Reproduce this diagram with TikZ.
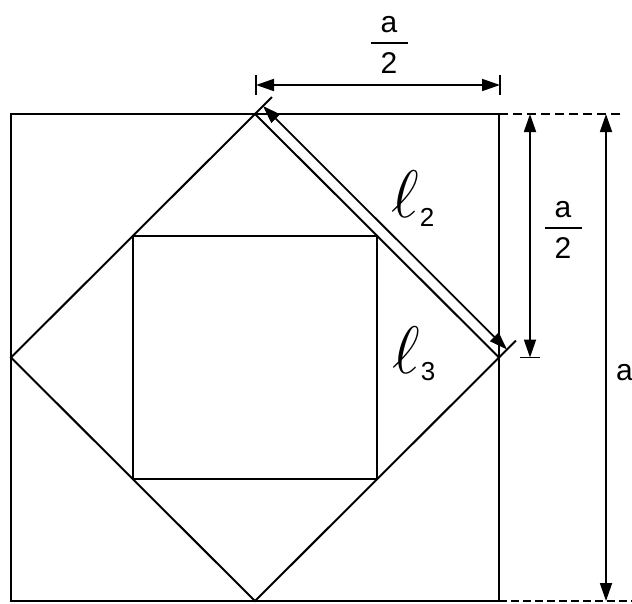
\documentclass[tikz,border=0pt]{standalone}
\usepackage{graphicx}
\usepackage{fontspec}
\setmainfont{Liberation Sans}
\usetikzlibrary{arrows.meta}
\newcommand\halfa{\vbox{\hbox to 37pt{\hss a\hss}\kern9pt\hrule height 2.2pt\kern8pt\hbox to 37pt{\hss 2\hss}}}
\newcommand\bigell{\scalebox{2.7}{$\ell$}}
\begin{document}
\begin{tikzpicture}[x=1pt,y=-1pt,
  edge/.style={line width=2pt},
  dimline/.style={line width=1.8pt},
  twotips/.style={{Triangle[length=18pt,width=12pt]}-{Triangle[length=18pt,width=12pt]}},
  dashline/.style={line width=2pt,dash pattern=on 9pt off 5pt},
  bigfont/.style={font=\fontsize{30}{35}\selectfont,inner sep=0pt},
  ellfont/.style={font=\fontsize{26}{30}\selectfont,inner sep=0pt}]
\useasboundingbox (0,0) rectangle (632,603);
% outer square
\coordinate (TL) at (11,114);
\coordinate (TR) at (499,114);
\coordinate (BR) at (499,601);
\coordinate (BL) at (11,601);
% diamond vertices
\coordinate (T) at (255,114);
\coordinate (R) at (499,357.5);
\coordinate (B) at (255,601);
\coordinate (L) at (11,357.5);
% inner square
\coordinate (IA) at (133,236);
\coordinate (IC) at (377,479);
\draw[edge] (TL) rectangle (BR);
\draw[edge] (T) -- (R) -- (B) -- (L) -- cycle;
\draw[edge] (IA) rectangle (IC);
% l2 dimension
\coordinate (Tk) at (272,97);
\coordinate (Rk) at (516,340.5);
\coordinate (P1) at (263,106);
\coordinate (P2) at (507,349.5);
\draw[dimline] (T) -- (Tk);
\draw[dimline] (R) -- (Rk);
\draw[dimline,twotips] (P1) -- (P2);
% top a/2 dimension
\coordinate (H1a) at (256,75);
\coordinate (H1b) at (256,95);
\coordinate (H2a) at (500,75);
\coordinate (H2b) at (500,95);
\coordinate (H1) at (256,85);
\coordinate (H2) at (500,85);
\draw[dimline] (H1a) -- (H1b);
\draw[dimline] (H2a) -- (H2b);
\draw[dimline,twotips] (H1) -- (H2);
% dashed extension lines
\coordinate (DT) at (620,114);
\coordinate (DB) at (632,601);
\draw[dashline] (TR) -- (DT);
\draw[line width=2.8pt,dash pattern=on 8pt off 4pt] (BR) -- (DB);
% right a/2 dimension
\coordinate (V1) at (530,114);
\coordinate (V2) at (530,357.5);
\coordinate (V2a) at (520,357.5);
\coordinate (V2b) at (540,357.5);
\draw[dimline,twotips] (V1) -- (V2);
\draw[dimline] (V2a) -- (V2b);
% a dimension
\coordinate (A1) at (606,114);
\coordinate (A2) at (606,601);
\draw[dimline,twotips] (A1) -- (A2);
% labels
\node[bigfont] (lh) at (389,45) {\halfa};
\node[bigfont] (lv) at (563,230) {\halfa};
\node[bigfont,anchor=base west] (la) at (616,380) {a};
\node[ellfont,anchor=base west] (l2) at (391,217) {\bigell\kern1pt\raisebox{-9pt}{2}};
\node[ellfont,anchor=base west] (l3) at (392,373) {\bigell\kern1pt\raisebox{-7pt}{3}};
\end{tikzpicture}
\end{document}
